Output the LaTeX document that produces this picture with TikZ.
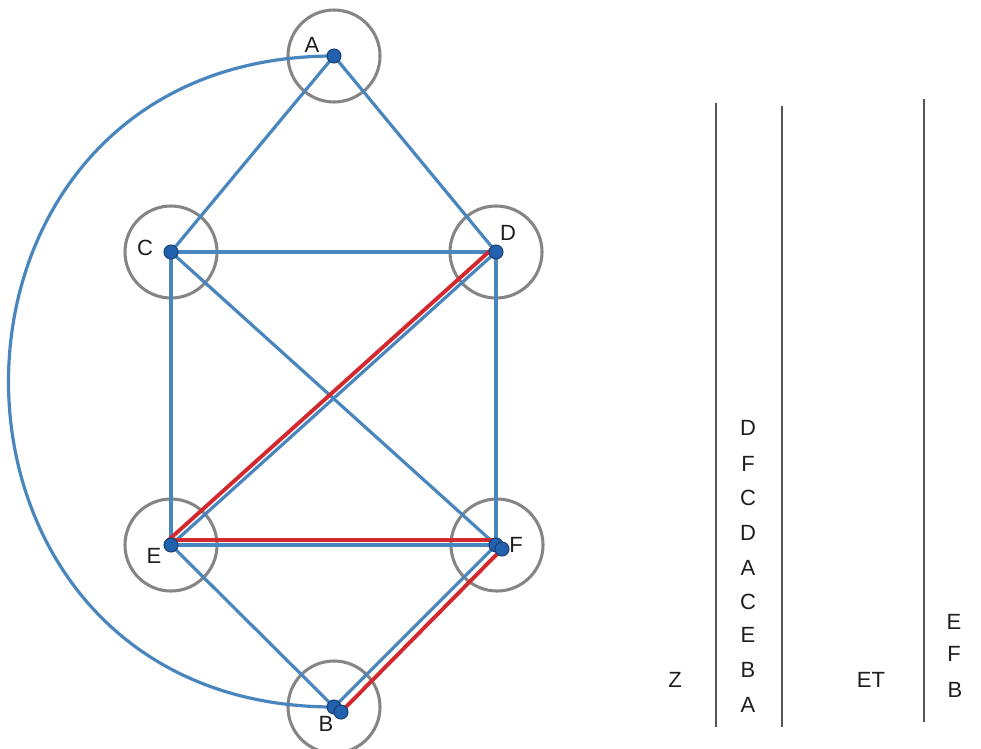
\documentclass[tikz,border=0pt]{standalone}
\usepackage{fontspec}
\setmainfont{Liberation Sans}
\definecolor{edgeblue}{HTML}{4A86BE}
\definecolor{edgered}{HTML}{D3282E}
\definecolor{ringgray}{HTML}{858585}
\definecolor{dotblue}{HTML}{2261AE}
\definecolor{dotdark}{HTML}{1A3F73}
\definecolor{textgray}{HTML}{1E1E1E}
\definecolor{linegray}{HTML}{555555}
\begin{document}
\begin{tikzpicture}[x=0.75pt,y=-0.75pt,
 edge/.style={draw=edgeblue,line width=2.4pt},
 redge/.style={draw=edgered,line width=2.9pt},
 ring/.style={circle,draw=ringgray,line width=2.3pt,minimum size=69pt,inner sep=0pt},
 dot/.style={circle,fill=dotblue,draw=dotdark,line width=0.8pt,minimum size=10.5pt,inner sep=0pt},
 lbl/.style={font=\fontsize{16.5}{19}\selectfont,text=textgray,inner sep=0pt},
 vline/.style={draw=linegray,line width=1.6pt}]
\useasboundingbox (0,0) rectangle (981,749);
% vertex positions
\coordinate (A) at (334,56);
\coordinate (C) at (171,252);
\coordinate (D) at (496,252);
\coordinate (E) at (171,545);
\coordinate (F) at (496,545);
\coordinate (F2) at (502,549);
\coordinate (B) at (334,707);
\coordinate (B2) at (341,712);
% rings
\node[ring] (rA) at (A) {};
\node[ring] (rC) at (C) {};
\node[ring] (rD) at (D) {};
\node[ring] (rE) at (E) {};
\node[ring] (rF) at (497,545) {};
\node[ring] (rB) at (334,707) {};
% blue edges
\draw[edge] (A) -- (C);
\draw[edge] (A) -- (D);
\draw[edge] (C) -- (D);
\draw[edge] (C) -- (E);
\draw[edge] (C) -- (F);
\draw[edge] (D) -- (F);
\draw[edge] (E) -- (D);
\draw[edge] (E) -- (F);
\draw[edge] (E) -- (B);
\draw[edge] (F) -- (B);
\draw[edge] (A) .. controls +(-434,0) and +(-434,0) .. (B);
% red edges
\draw[redge] ([shift={(-3.5,-4)}]E) -- ([shift={(-4,-3)}]D);
\draw[redge] ([shift={(0,-5)}]E) -- ([shift={(0,-5)}]F);
\draw[redge] (F2) -- (B2);
% dots
\node[dot] (dA) at (A) {};
\node[dot] (dC) at (C) {};
\node[dot] (dD) at (D) {};
\node[dot] (dE) at (E) {};
\node[dot] (dF) at (F) {};
\node[dot] (dF2) at (F2) {};
\node[dot] (dB) at (B) {};
\node[dot] (dB2) at (B2) {};
% vertex labels
\node[lbl] (tA) at (312,45) {A};
\node[lbl] (tC) at (145,248) {C};
\node[lbl] (tD) at (508,233) {D};
\node[lbl] (tE) at (154,556) {E};
\node[lbl] (tF) at (516,545) {F};
\node[lbl] (tB) at (326,724) {B};
% columns
\coordinate (L1t) at (716,103); \coordinate (L1b) at (716,727);
\coordinate (L2t) at (782,106); \coordinate (L2b) at (782,727);
\coordinate (L3t) at (924,99);  \coordinate (L3b) at (924,722);
\draw[vline] (L1t) -- (L1b);
\draw[vline] (L2t) -- (L2b);
\draw[vline] (L3t) -- (L3b);
\node[lbl] (s1) at (748,428) {D};
\node[lbl] (s2) at (748,464) {F};
\node[lbl] (s3) at (748,498) {C};
\node[lbl] (s4) at (748,533) {D};
\node[lbl] (s5) at (748,568) {A};
\node[lbl] (s6) at (748,602) {C};
\node[lbl] (s7) at (748,635) {E};
\node[lbl] (s8) at (748,670) {B};
\node[lbl] (s9) at (748,705) {A};
\node[lbl] (z) at (675,680) {Z};
\node[lbl] (et) at (871,680) {ET};
\node[lbl] (u1) at (954,622) {E};
\node[lbl] (u2) at (954,654) {F};
\node[lbl] (u3) at (955,690) {B};
\end{tikzpicture}
\end{document}
